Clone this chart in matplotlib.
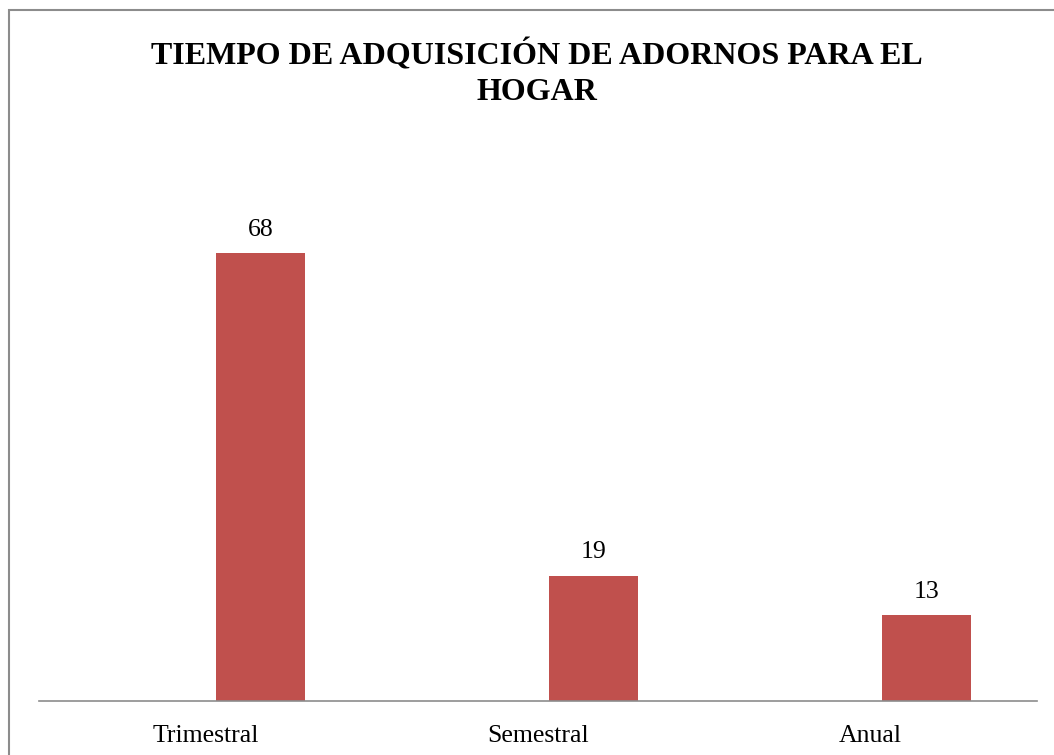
import matplotlib
matplotlib.use("Agg")
import matplotlib.pyplot as plt
from matplotlib.patches import Rectangle

categories = ["Trimestral", "Semestral", "Anual"]
values = [68, 19, 13]
title = "TIEMPO DE ADQUISICIÓN DE ADORNOS PARA EL\nHOGAR"

plt.rcParams['font.family'] = ['Liberation Serif', 'DejaVu Serif']

fig = plt.figure(figsize=(10.54, 7.55), dpi=100)
fig.patch.set_facecolor('white')

# outer chart border
fig.patches.append(Rectangle((9/1054, -0.02), 1.05, 1 - 10/755 + 0.02,
                             transform=fig.transFigure, fill=False,
                             edgecolor='#8c8c8c', linewidth=1.5, zorder=0))

ax = fig.add_axes([39/1054, 1 - 701/755, 998/1054, (701 - 174)/755])
x = list(range(len(categories)))
offset = 0.167
width = 0.2675
bars = ax.bar([i + offset for i in x], values, width=width, color='#C0504D')
for b, v in zip(bars, values):
    ax.annotate(str(v), (b.get_x() + b.get_width()/2, v), xytext=(0, 9),
                textcoords='offset points', ha='center', va='bottom', fontsize=18.5)

ax.set_xlim(-0.5, len(categories) - 0.5)
ax.set_ylim(0, 80)
ax.set_xticks(x)
ax.set_xticklabels(categories, fontsize=18.5)
ax.tick_params(axis='x', length=0, pad=17)
ax.set_yticks([])
for s in ['top', 'right', 'left']:
    ax.spines[s].set_visible(False)
ax.spines['bottom'].set_color('#8c8c8c')
ax.spines['bottom'].set_linewidth(1.2)

fig.text(537/1054, 1 - 39/755, title, ha='center', va='top', fontsize=23,
         fontweight='bold', linespacing=1.32)

fig.savefig('out.png', dpi=100)
